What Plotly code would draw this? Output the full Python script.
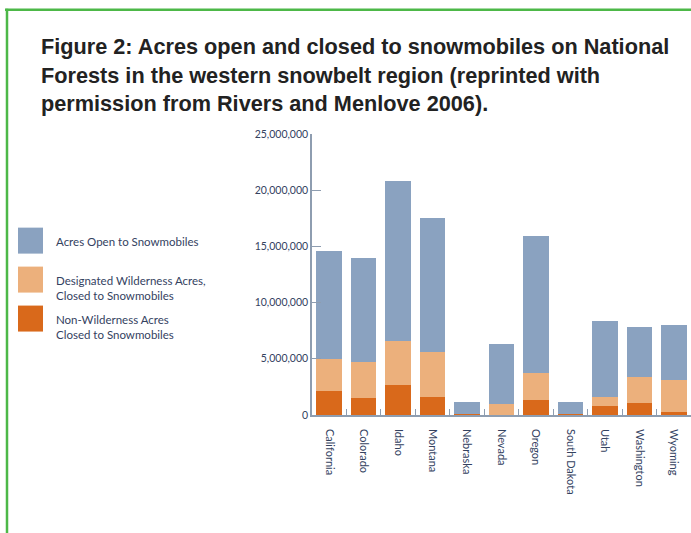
import plotly.graph_objects as go

states = ["California", "Colorado", "Idaho", "Montana", "Nebraska", "Nevada",
          "Oregon", "South Dakota", "Utah", "Washington", "Wyoming"]
# values in acres
non_wilderness_closed = [2130000, 1480000, 2700000, 1570000, 90000, 0,
                         1330000, 90000, 800000, 1040000, 240000]
wilderness_closed = [2880000, 3200000, 3910000, 4060000, 0, 1010000,
                     2370000, 0, 770000, 2310000, 2840000]
open_acres = [9600000, 9330000, 14220000, 11940000, 1040000, 5300000,
              12240000, 1040000, 6820000, 4440000, 4920000]
y_ticks = [0, 5000000, 10000000, 15000000, 20000000, 25000000]
y_tick_labels = ["0", "5,000,000", "10,000,000", "15,000,000", "20,000,000", "25,000,000"]

legend_labels = ["Acres Open to Snowmobiles",
                 "Designated Wilderness Acres,<br>Closed to Snowmobiles",
                 "Non-Wilderness Acres<br>Closed to Snowmobiles"]
title_lines = ["Figure 2: Acres open and closed to snowmobiles on National",
               "Forests in the western snowbelt region (reprinted with",
               "permission from Rivers and Menlove 2006)."]

C_BLUE = "#8aa2c0"
C_LIGHT = "#ecb07c"
C_DARK = "#d9691b"
TXT = "#34425f"
AX = "#8e9db0"

W, H = 691, 533
L, R, T, B = 312, 0, 134.3, 117.5
pw, ph = W - L - R, H - T - B


def px(x):
    return (x - L) / pw


def py(y):
    return (H - B - y) / ph


fig = go.Figure()
for vals, col in [(non_wilderness_closed, C_DARK), (wilderness_closed, C_LIGHT), (open_acres, C_BLUE)]:
    fig.add_trace(go.Bar(x=states, y=vals, marker=dict(color=col, line=dict(width=0)),
                         showlegend=False))

shapes = []
# green frame
shapes.append(dict(type="line", xref="paper", yref="paper", x0=px(5), x1=px(700), y0=py(10), y1=py(10),
                   line=dict(color="#4db848", width=2.5)))
shapes.append(dict(type="line", xref="paper", yref="paper", x0=px(7), x1=px(7), y0=py(9), y1=py(540),
                   line=dict(color="#4db848", width=2.5)))

annotations = []
for i, line in enumerate(title_lines):
    annotations.append(dict(text="<b>" + line + "</b>", xref="paper", yref="paper",
                            x=px(39), y=py(47 + 28.3 * i),
                            xanchor="left", yanchor="middle", showarrow=False,
                            font=dict(family="Liberation Sans", size=21.7, color="#222222")))

sw_top = [228, 267, 306]
for lab, col, top in zip(legend_labels, [C_BLUE, C_LIGHT, C_DARK], sw_top):
    shapes.append(dict(type="rect", xref="paper", yref="paper", x0=px(18), x1=px(43),
                       y0=py(top), y1=py(top + 26), fillcolor=col, line=dict(width=0)))
    annotations.append(dict(text=lab, xref="paper", yref="paper", x=px(54),
                            y=py(top + 5), xanchor="left", yanchor="top", align="left",
                            showarrow=False, font=dict(family="Lato", size=11.5, color=TXT)))

fig.update_layout(
    width=W, height=H,
    margin=dict(l=L, r=R, t=T, b=B, pad=0),
    paper_bgcolor="white", plot_bgcolor="white",
    barmode="stack", bargap=0.26,
    shapes=shapes, annotations=annotations,
    xaxis=dict(showline=True, linecolor=AX, linewidth=1.5, ticks="inside", tickson="boundaries",
               ticklen=6, tickcolor=AX, tickangle=90, showgrid=False,
               tickfont=dict(family="Lato", size=11, color=TXT), ticklabelstandoff=10,
               range=[-0.5, 10.5]),
    yaxis=dict(showline=True, linecolor=AX, linewidth=1.5, ticks="inside", ticklen=9,
               tickcolor=AX, showgrid=False, zeroline=False, range=[0, 25000000],
               tickvals=y_ticks, ticktext=y_tick_labels,
               tickfont=dict(family="Lato", size=10.5, color=TXT)),
)

fig.write_html("out.html", config={"displayModeBar": False},
               post_script="document.body.style.margin='0';document.body.style.overflow='hidden';")
